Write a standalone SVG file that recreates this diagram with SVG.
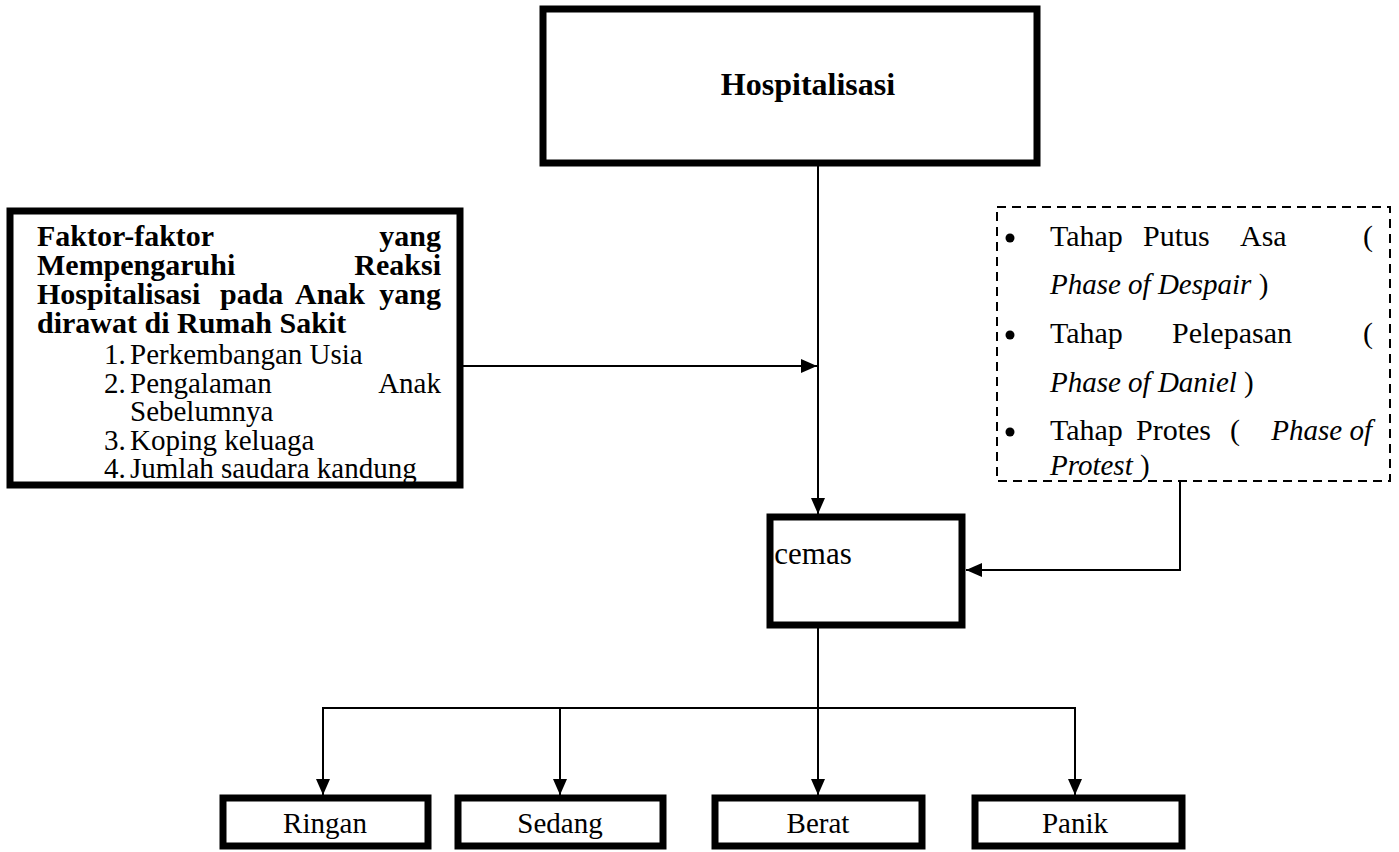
<svg xmlns="http://www.w3.org/2000/svg" width="1399" height="852" viewBox="0 0 1399 852">
<defs>
<style>
.box{fill:#fff;stroke:#000;stroke-width:7}
.dash{fill:#fff;stroke:#000;stroke-width:2;stroke-dasharray:9 6}
.t{font-family:"Liberation Serif","Times New Roman",serif;font-size:29px;fill:#000}
.b{font-weight:bold;font-size:30px}
.i{font-style:italic}
.c{text-anchor:middle}
.e{text-anchor:end}
.ln{fill:none;stroke:#000;stroke-width:2}
</style>
<marker id="ah" markerUnits="userSpaceOnUse" markerWidth="16" markerHeight="14" viewBox="0 0 16 14" refX="16" refY="7" orient="auto">
<path d="M0,0 L16,7 L0,14 Z" fill="#000"/>
</marker>
</defs>
<rect width="1399" height="852" fill="#fff"/>
<g id="connectors">
<line class="ln" x1="818" y1="166" x2="818" y2="514" marker-end="url(#ah)"/>
<line class="ln" x1="463" y1="366" x2="817" y2="366" marker-end="url(#ah)"/>
<polyline class="ln" points="1180,481 1180,570 966,570" marker-end="url(#ah)"/>
<line class="ln" x1="818" y1="628" x2="818" y2="795" marker-end="url(#ah)"/>
<polyline class="ln" points="323,708 1075,708"/>
<line class="ln" x1="323" y1="707" x2="323" y2="795" marker-end="url(#ah)"/>
<line class="ln" x1="560" y1="708" x2="560" y2="795" marker-end="url(#ah)"/>
<line class="ln" x1="1075" y1="707" x2="1075" y2="795" marker-end="url(#ah)"/>
</g>
<g id="hospitalisasi">
<rect class="box" x="543" y="9" width="494" height="154"/>
<text class="t b c" x="808" y="95" style="font-size:32px">Hospitalisasi</text>
</g>
<g id="faktor">
<rect class="box" x="10" y="211" width="450" height="274"/>
<text class="t b" x="37" y="246">Faktor-faktor</text>
<text class="t b e" x="441" y="246">yang</text>
<text class="t b" x="37" y="275">Mempengaruhi</text>
<text class="t b e" x="441" y="275">Reaksi</text>
<text class="t b" x="37" y="304">Hospitalisasi</text>
<text class="t b" x="220" y="304">pada</text>
<text class="t b" x="295" y="304">Anak</text>
<text class="t b e" x="441" y="304">yang</text>
<text class="t b" x="37" y="333">dirawat di Rumah Sakit</text>
<text class="t" x="104" y="364">1.</text>
<text class="t" x="130" y="364">Perkembangan Usia</text>
<text class="t" x="104" y="393">2.</text>
<text class="t" x="130" y="393">Pengalaman</text>
<text class="t e" x="441" y="393">Anak</text>
<text class="t" x="130" y="421">Sebelumnya</text>
<text class="t" x="104" y="450">3.</text>
<text class="t" x="130" y="450">Koping keluaga</text>
<text class="t" x="104" y="478">4.</text>
<text class="t" x="130" y="478">Jumlah saudara kandung</text>
</g>
<g id="tahap">
<rect class="dash" x="997" y="207" width="393" height="274"/>
<circle cx="1010" cy="238" r="4.5"/>
<circle cx="1010" cy="335" r="4.5"/>
<circle cx="1010" cy="432" r="4.5"/>
<text class="t" x="1050" y="246" style="font-size:30px">Tahap</text>
<text class="t" x="1143" y="246" style="font-size:30px">Putus</text>
<text class="t" x="1240" y="246" style="font-size:30px">Asa</text>
<text class="t e" x="1373" y="246" style="font-size:30px">(</text>
<text class="t" x="1050" y="294"><tspan class="i">Phase of Despair</tspan> )</text>
<text class="t" x="1050" y="343" style="font-size:30px">Tahap</text>
<text class="t" x="1172" y="343" style="font-size:30px">Pelepasan</text>
<text class="t e" x="1373" y="343" style="font-size:30px">(</text>
<text class="t" x="1050" y="392"><tspan class="i">Phase of Daniel</tspan> )</text>
<text class="t" x="1050" y="440" style="font-size:30px">Tahap</text>
<text class="t" x="1136" y="440" style="font-size:30px">Protes</text>
<text class="t" x="1230" y="440" style="font-size:30px">(</text>
<text class="t i e" x="1372" y="440">Phase of</text>
<text class="t" x="1050" y="475"><tspan class="i">Protest</tspan> )</text>
</g>
<g id="cemas">
<rect class="box" x="770" y="517" width="192" height="108"/>
<text class="t c" x="813" y="564" style="font-size:31px">cemas</text>
</g>
<g id="ringan">
<rect class="box" x="223" y="798" width="205" height="48"/>
<text class="t c" x="325" y="833">Ringan</text>
</g>
<g id="sedang">
<rect class="box" x="458" y="798" width="205" height="48"/>
<text class="t c" x="560" y="833">Sedang</text>
</g>
<g id="berat">
<rect class="box" x="715" y="798" width="207" height="48"/>
<text class="t c" x="818" y="833">Berat</text>
</g>
<g id="panik">
<rect class="box" x="975" y="798" width="207" height="48"/>
<text class="t c" x="1075" y="833">Panik</text>
</g>
</svg>
